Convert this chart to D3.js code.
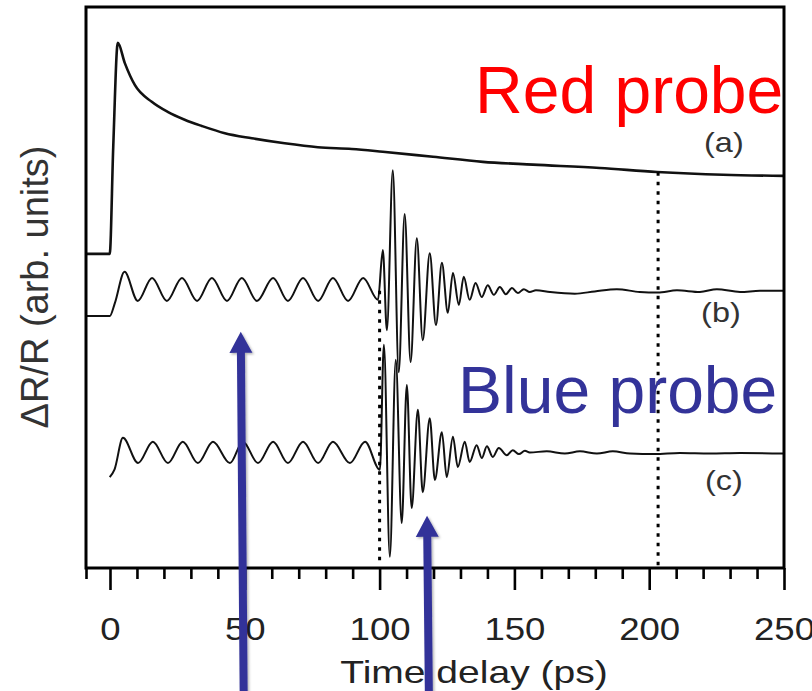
<!DOCTYPE html>
<html>
<head>
<meta charset="utf-8">
<script src="https://cdn.jsdelivr.net/npm/d3@7"></script>
<style>
  html, body { margin: 0; padding: 0; background: #fff; }
  svg { display: block; }
  text { font-family: "Liberation Sans", Arial, Helvetica, sans-serif; }
</style>
</head>
<body>
<svg id="chart" width="812" height="691"></svg>
<script>
// Time axis (ps)
const majorTicks = [0, 50, 100, 150, 200, 250];
const majorLabels = ["0", "50", "100", "150", "200", "250"];
const minorTicks = [10, 20, 30, 40, 60, 70, 80, 90, 110, 120, 130, 140, 160, 170, 180, 190, 210, 220, 230, 240];

// (a) red probe transient
const timeA = [-8.9, -0.1, 1.2, 2.9, 5.5, 9.2, 15.5, 21.4, 27.7, 34.0, 42.6, 52.6, 64.8, 77.1, 89.7, 101.2, 119.8, 138.3, 156.9, 181.7, 202.9, 227.4, 250];
const valA  = [56.0, 56.0, 75.0, 93.6, 90.0, 86.1, 83.1, 81.3, 79.9, 78.8, 77.5, 76.6, 75.7, 75.0, 74.7, 74.2, 73.3, 72.4, 71.9, 71.3, 70.6, 70.1, 69.9];

// (b) red probe, oscillatory part
const timeB = [-8.9, -0.1, 1.8, 5.4, 10.3, 15.6, 21.1, 26.7, 32.3, 37.8, 43.4, 48.9, 54.5, 60.5, 66.0, 71.6, 77.2, 82.7, 88.3, 93.9, 99.4,
  101.2, 102.7, 104.9, 107.1, 109.3, 111.5, 113.8, 116.0, 118.6, 120.9, 123.1, 125.3, 127.2, 129.4, 131.2, 133.4, 135.6, 137.9, 140.1, 142.4, 144.6, 146.8, 149.1, 151.3, 153.5, 155.7,
  158.0, 163.2, 172.4, 179.8, 188.0, 196.5, 203.2, 210.3, 218.8, 225.1, 233.7, 241.1, 250];
const valB = [44.9, 44.9, 47.2, 52.8, 47.6, 51.7, 47.6, 51.7, 47.6, 51.7, 47.6, 51.7, 47.6, 51.7, 47.6, 51.7, 47.6, 51.7, 47.6, 51.7, 47.8,
  56.7, 42.4, 70.9, 34.9, 63.1, 36.7, 58.8, 40.6, 56.1, 43.3, 54.4, 45.5, 52.6, 46.9, 51.9, 47.8, 50.8, 48.3, 50.4, 48.7, 50.1, 48.8, 49.9, 49.0, 49.7, 49.2,
  49.5, 49.2, 48.9, 49.3, 49.7, 49.2, 49.1, 49.5, 49.2, 49.7, 49.2, 49.4, 49.4];

// (c) blue probe, oscillatory part
const timeC = [-0.1, 1.7, 4.8, 10.4, 15.9, 21.5, 27.0, 32.6, 38.2, 44.5, 49.3, 54.9, 60.5, 66.0, 71.6, 77.2, 82.7, 89.0, 94.6, 100.1,
  101.6, 103.8, 106.0, 108.2, 110.1, 111.9, 114.2, 116.0, 118.6, 120.5, 123.1, 124.9, 127.2, 129.0, 131.6, 133.4, 136.0, 137.9, 139.8, 142.0, 144.2, 147.2, 149.4, 151.7, 153.9,
  155.7, 162.0, 168.7, 174.3, 180.6, 186.5, 192.9, 202.1, 211.4, 222.5, 233.7, 250];
const valC = [16.2, 17.6, 23.2, 18.7, 22.5, 18.7, 22.5, 18.7, 22.5, 18.7, 22.5, 18.7, 22.5, 18.7, 22.5, 18.7, 22.5, 18.7, 22.5, 17.5,
  39.8, 2.0, 37.1, 8.0, 32.6, 10.7, 28.2, 13.5, 26.7, 15.7, 24.2, 16.2, 23.4, 18.0, 22.5, 18.9, 21.9, 19.6, 21.7, 19.8, 21.4, 20.1, 21.0, 20.3, 20.9,
  20.6, 20.8, 20.4, 20.8, 20.4, 20.8, 20.4, 20.3, 20.5, 20.4, 20.5, 20.4];

// Vertical dotted markers: time, lower and upper level
const markerTimes = [100, 203.3];
const markerLow = [1.4, 0.5];
const markerHigh = [49.6, 70.6];

// Trace tags
const tagText = ["(a)", "(b)", "(c)"];
const tagTime = [227.7, 226.6, 227.7];
const tagLevel = [74.2, 43.9, 13.9];

// Probe captions
const captionText = ["Red probe", "Blue probe"];
const captionTime = [135.4, 129.1];
const captionLevel = [81.1, 27.6];
const captionColor = ["#ff0000", "#333399"];

// Arrows: tip and tail (time, level)
const arrowTip = [[48.5, 42.1], [117.6, 9.3]];
const arrowTail = [[49.6, -23.5], [118.3, -23.5]];

const svg = d3.select("#chart");
const W = 812, H = 691;
svg.append("rect").attr("width", W).attr("height", H).attr("fill", "#fff");

const x = d3.scaleLinear().domain([-8.9, 250]).range([86, 784]);
const y = d3.scaleLinear().domain([0, 100]).range([568, 7]);

const defs = svg.append("defs");
const f = defs.append("filter").attr("id", "shadow").attr("x", "-50%").attr("y", "-10%").attr("width", "200%").attr("height", "120%");
f.append("feDropShadow").attr("dx", 1.5).attr("dy", 1.5).attr("stdDeviation", 1.2)
  .attr("flood-color", "#000").attr("flood-opacity", 0.3);

// Traces
const line = d3.line().x(d => x(d[0])).y(d => y(d[1])).curve(d3.curveMonotoneX);
const traces = [d3.zip(timeA, valA), d3.zip(timeB, valB), d3.zip(timeC, valC)];
svg.append("g").selectAll("path").data(traces).join("path")
  .attr("d", line)
  .attr("fill", "none")
  .attr("stroke", "#111")
  .attr("stroke-width", (d, i) => i === 0 ? 2.6 : 2)
  .attr("stroke-linejoin", "round");

// Dotted markers
svg.append("g").selectAll("line").data(markerTimes).join("line")
  .attr("x1", d => x(d)).attr("x2", d => x(d))
  .attr("y1", (d, i) => y(markerLow[i])).attr("y2", (d, i) => y(markerHigh[i]))
  .attr("stroke", "#000").attr("stroke-width", 3)
  .attr("stroke-dasharray", "3.5,6");

// Frame
svg.append("rect")
  .attr("x", x.range()[0]).attr("y", y.range()[1])
  .attr("width", x.range()[1] - x.range()[0])
  .attr("height", y.range()[0] - y.range()[1])
  .attr("fill", "none").attr("stroke", "#000").attr("stroke-width", 3);

// Bottom axis: major ticks with labels, minor ticks without
const axisG = svg.append("g").attr("transform", `translate(0,${y.range()[0]})`);
const major = axisG.append("g").call(
  d3.axisBottom(x).tickValues(majorTicks).tickSize(22)
    .tickFormat((d, i) => majorLabels[i]));
major.select(".domain").remove();
major.selectAll(".tick line").attr("stroke", "#000").attr("stroke-width", 2.6);
major.selectAll(".tick text")
  .attr("y", 72).attr("dy", null)
  .attr("fill", "#222")
  .attr("font-size", 31)
  .attr("transform", "scale(1.18,1)");

const minor = axisG.append("g").call(
  d3.axisBottom(x).tickValues(minorTicks.concat([x.domain()[0]])).tickSize(11).tickFormat(""));
minor.select(".domain").remove();
minor.selectAll(".tick line").attr("stroke", "#000").attr("stroke-width", 2.6);

// Axis titles
svg.append("text")
  .attr("transform", "translate(474,683) scale(1.22,1)")
  .attr("text-anchor", "middle")
  .attr("font-size", 32)
  .attr("fill", "#222")
  .text("Time delay (ps)");

svg.append("text")
  .attr("transform", "translate(48,287) rotate(-90)")
  .attr("text-anchor", "middle")
  .attr("font-size", 38)
  .attr("fill", "#333")
  .text("ΔR/R (arb. units)");

// Trace tags
svg.append("g").selectAll("text").data(tagText).join("text")
  .attr("transform", (d, i) => `translate(${x(tagTime[i])},${y(tagLevel[i])}) scale(1.2,1)`)
  .attr("text-anchor", "middle")
  .attr("font-size", 27)
  .attr("fill", "#333")
  .text(d => d);

// Probe captions
svg.append("g").selectAll("text").data(captionText).join("text")
  .attr("x", (d, i) => x(captionTime[i]))
  .attr("y", (d, i) => y(captionLevel[i]))
  .attr("font-size", 66)
  .attr("fill", (d, i) => captionColor[i])
  .text(d => d);

// Arrows
function arrowPath(tip, tail) {
  const tx = x(tip[0]), ty = y(tip[1]);
  const bx = x(tail[0]), by = y(tail[1]);
  const len = Math.hypot(tx - bx, ty - by);
  const ux = (tx - bx) / len, uy = (ty - by) / len;   // unit vector toward tip
  const px = -uy, py = ux;                             // perpendicular
  const headLen = 21, headHalf = 11.5, shaftHalf = 4;
  const hx = tx - ux * headLen, hy = ty - uy * headLen;
  const pts = [
    [bx + px * shaftHalf, by + py * shaftHalf],
    [hx + px * shaftHalf, hy + py * shaftHalf],
    [hx + px * headHalf, hy + py * headHalf],
    [tx, ty],
    [hx - px * headHalf, hy - py * headHalf],
    [hx - px * shaftHalf, hy - py * shaftHalf],
    [bx - px * shaftHalf, by - py * shaftHalf]
  ];
  return "M" + pts.map(p => p.join(",")).join("L") + "Z";
}
svg.append("g").attr("filter", "url(#shadow)")
  .selectAll("path").data(arrowTip).join("path")
  .attr("d", (d, i) => arrowPath(d, arrowTail[i]))
  .attr("fill", "#333399");
</script>
</body>
</html>
